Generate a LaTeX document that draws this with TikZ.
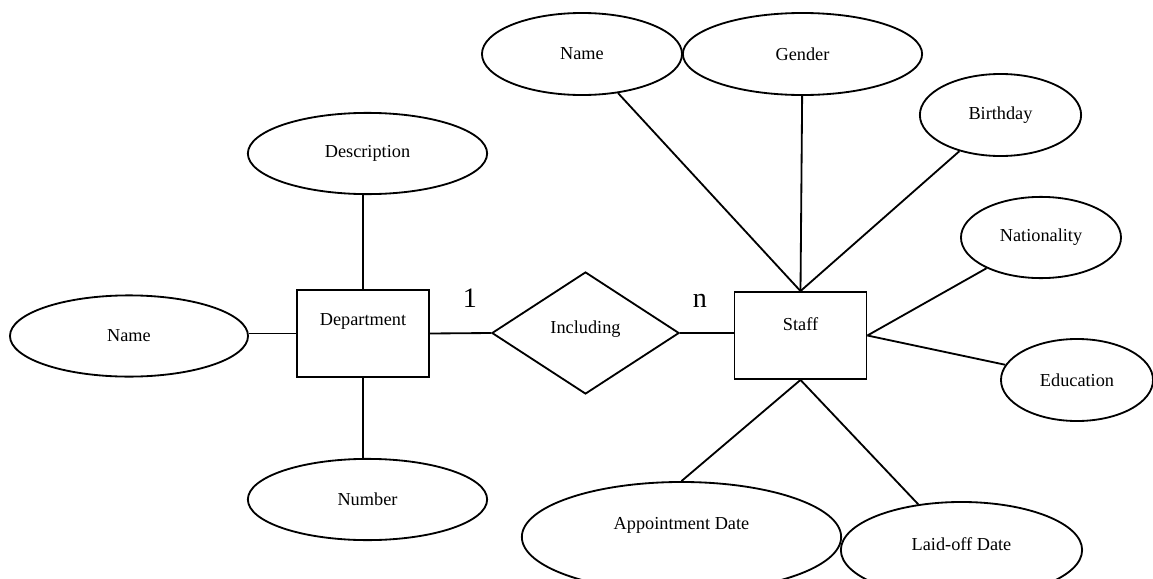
\documentclass[tikz,border=0pt]{standalone}
\usepackage{fontspec}
\setmainfont{Liberation Serif}
\usetikzlibrary{shapes.geometric}
\tikzset{
	lbl/.style={font=\fontsize{13}{15}\selectfont},
	attrib/.style={draw, ellipse, line width=1.3pt, inner sep=0pt, lbl},
	entity/.style={draw, rectangle, line width=1.3pt, minimum width=3.3cm, minimum height=2.175cm, inner sep=0pt},
	relation/.style={draw, diamond, line width=1.3pt, minimum width=4.68cm, minimum height=3.05cm, inner sep=0pt},
	link/.style={line width=1.3pt},
	card/.style={font=\fontsize{20}{24}\selectfont, anchor=base, inner sep=0pt},
}

\begin{document}
\begin{tikzpicture}[x=0.025cm, y=-0.025cm]
		%%%%% START %%%%%
		\useasboundingbox (0, 0) rectangle (1153, 579);
		
		\node[entity, label={[lbl, yshift=0.29cm]center:Department}] (dept) at (363, 333.5) {};
		\node[relation, label={[lbl, yshift=0.1cm]center:Including}] (incl) at (585.5, 333) {};
		\node[entity, label={[lbl, yshift=0.29cm]center:Staff}] (staff) at (800.5, 335.5) {};
		
		\node[attrib, minimum width=5.95cm, minimum height=2.03cm] (dname) at (129, 336) {Name};
		\node[attrib, minimum width=5.98cm, minimum height=2.03cm] (desc) at (367.5, 153.5) {Description};
		\node[attrib, minimum width=5.98cm, minimum height=2.03cm] (number) at (367.5, 499.5) {Number};
		
		\node[attrib, minimum width=5.0cm, minimum height=2.05cm] (sname) at (582, 54) {Name};
		\node[attrib, minimum width=5.98cm, minimum height=2.05cm] (gender) at (802.5, 54) {Gender};
		\node[attrib, minimum width=4.03cm, minimum height=2.05cm] (birth) at (1000.5, 115) {Birthday};
		\node[attrib, minimum width=4.0cm, minimum height=2.03cm] (nation) at (1041, 237.5) {Nationality};
		\node[attrib, minimum width=3.8cm, minimum height=2.05cm] (edu) at (1077, 380) {Education};
		\node[attrib, minimum width=7.98cm, minimum height=2.75cm, label={[lbl, yshift=0.28cm]center:Appointment Date}] (appoint) at (681.5, 537) {};
		\node[attrib, minimum width=6.03cm, minimum height=2.4cm, label={[lbl, yshift=0.15cm]center:Laid-off Date}] (laidoff) at (961.5, 550) {};
		
		\draw[link] (dname.east |- dept.west) -- (dept.west);
		\draw[link] (dept.north) -- (desc.south -| dept.north);
		\draw[link] (dept.south) -- (number.north -| dept.south);
		\draw[link] (dept.east) -- (incl.west);
		\draw[link] (incl.east) -- (incl.east -| staff.west);
		
		\draw[link] (staff.north) -- (sname);
		\draw[link] (staff.north) -- (gender);
		\draw[link] (staff.north) -- (birth);
		\draw[link] (staff.east) -- (nation);
		\draw[link] (staff.east) -- (edu);
		\draw[link] (staff.south) -- (appoint.north);
		\draw[link] (staff.south) -- (laidoff);
		
		\node[card] (one) at (470, 307) {1};
		\node[card] (many) at (700, 307) {n};
		%%%%% END %%%%%
	\end{tikzpicture}
\end{document}
